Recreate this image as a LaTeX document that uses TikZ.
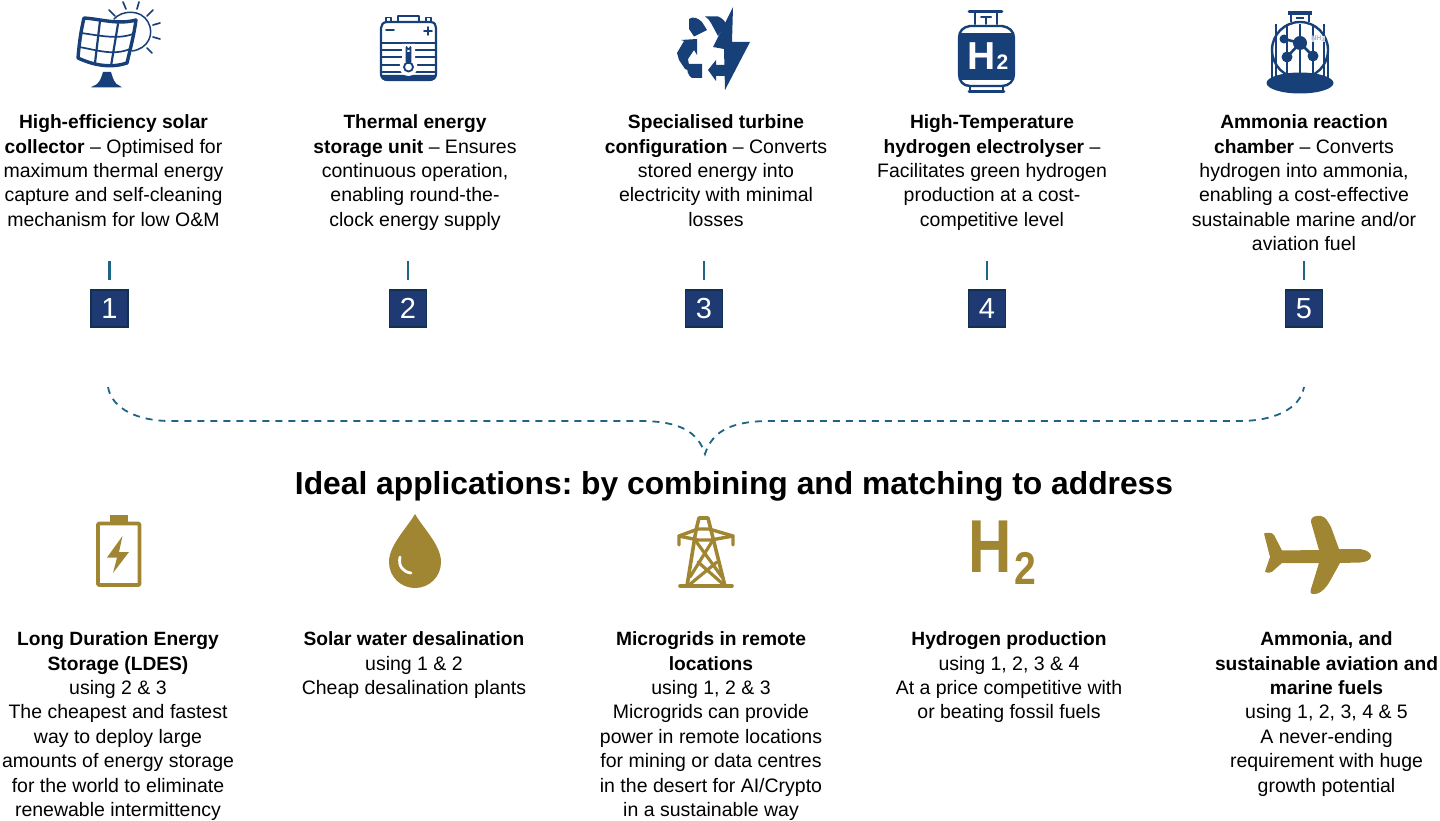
\documentclass[tikz,border=0pt]{standalone}
\usepackage{fontspec}
\setmainfont{Liberation Sans}
\frenchspacing
\definecolor{navy}{HTML}{173F78}
\definecolor{boxblue}{HTML}{1F3A72}
\definecolor{boxedge}{HTML}{12304F}
\definecolor{teal}{HTML}{1D6485}
\definecolor{gold}{HTML}{A08532}
\newcommand{\bh}[1]{{\fontsize{19.2}{24.4}\bfseries\selectfont #1}}
\tikzset{
 desc/.style={anchor=north,align=center,inner sep=0pt,font=\fontsize{19.5}{24.4}\selectfont},
 numbox/.style={draw=boxedge,line width=1.8pt,fill=boxblue,text=white,minimum size=37pt,inner sep=0pt,font=\fontsize{29}{30}\selectfont},
 tick/.style={draw=teal,line width=2.8pt},
 brace/.style={draw=teal,line width=1.8pt,dash pattern=on 7pt off 6pt},
 nv/.style={draw=navy,line width=2.2pt,line cap=round,line join=round},
 gl/.style={draw=gold,line width=2.6pt,line cap=round,line join=round},
}
\begin{document}
\begin{tikzpicture}[x=1pt,y=-1pt]
\useasboundingbox (0,0) rectangle (1440,821);
% --- solar icon
\draw[nv,line width=1.5pt] (114,19) .. controls (122,10) and (141,9) .. (148,22) .. controls (155,34) and (148,49) .. (132,51);
\foreach \a/\b/\c/\d in {109/10/115/16, 123/2/126/9, 139/2/137/9, 153/10/147/16, 160/23/153/25, 160/39/153/37, 152/53/147/48}{
 \draw[nv,line width=1.7pt] (\a,\b) -- (\c,\d);}
\filldraw[draw=navy,line width=3.4pt,fill=white,line join=round] (84,18) .. controls (100,19) and (118,25) .. (136,20) .. controls (134,35) and (130,50) .. (127,63) .. controls (112,68) and (95,66) .. (78,58) .. controls (79,45) and (81,30) .. (84,18) -- cycle;
\draw[nv,line width=1.7pt] (81,33) .. controls (97,35) and (117,40) .. (133,34);
\draw[nv,line width=1.7pt] (79,47) .. controls (97,50) and (113,56) .. (130,49);
\draw[nv,line width=2.2pt] (100,21) -- (95,63);
\draw[nv,line width=2.2pt] (118,24) -- (111,66);
\fill[navy] (91,87.5) -- (122,87.5) -- (120,86) .. controls (114,84) and (113,78) .. (111,72) -- (103,72) .. controls (101,78) and (100,84) .. (93,86) -- cycle;
% --- thermal storage icon
\draw[nv,line width=2.2pt] (387,22) -- (430,22) .. controls (435,22) and (436,25) .. (436,28) -- (436,74) .. controls (436,78) and (433,80) .. (429,80) -- (388,80) .. controls (384,80) and (381,78) .. (381,74) -- (381,28) .. controls (381,25) and (383,22) .. (387,22) -- cycle;
\draw[nv,line width=1.9pt] (398,21) -- (398,16) -- (419,16) -- (419,21);
\draw[nv,line width=1.9pt] (386,21) -- (386,17.5) -- (391,17.5) -- (391,21);
\draw[nv,line width=1.9pt] (426,21) -- (426,17.5) -- (431,17.5) -- (431,21);
\draw[nv,line width=1.6pt] (386,30) -- (394,30);
\draw[nv,line width=1.6pt] (424,31) -- (432,31) (428,27) -- (428,35);
\foreach \y in {43,50,57,65,72}{\draw[nv,line width=2.4pt] (381,\y) -- (436,\y);}
\fill[navy] (381,75) -- (436,75) -- (436,76) .. controls (436,79) and (433,81) .. (429,81) -- (388,81) .. controls (384,81) and (381,79) .. (381,76) -- cycle;
\fill[white] (402,44) rectangle (415,62) (408.5,67) circle[radius=9];
\draw[nv,line width=1.8pt] (406.5,62) -- (406.5,47) arc[start angle=180,end angle=0,radius=2] -- (410.5,62);
\draw[nv,line width=1.8pt] (408.5,67) circle[radius=4.5];
\fill[navy] (406.5,52) rectangle (410.5,64);
% --- recycle + bolt icon
\fill[navy] (689,19) .. controls (693,16) and (698,18) .. (702,22) -- (707,30) -- (694,36.5) -- (689,29) -- (689,25) -- cycle;
\fill[navy] (705,16.5) -- (718,16.5) .. controls (722,18) and (725,21) .. (726,24) -- (718,36) -- (711,23) .. controls (710,20) and (707,18) .. (705,16.5) -- cycle;
\fill[navy] (677,53) -- (684,41) -- (681,40) -- (697,39) -- (697,55) -- (694,50) -- (688,59) -- (690,71) -- (685,69) -- (679,60) -- cycle;
\fill[navy] (688,64) -- (702,64) -- (702,78) -- (692,78) .. controls (688,76) and (686,70) .. (688,64) -- cycle;
\fill[navy] (708,70) -- (716,60) -- (716,65) -- (726,65) -- (726,76) -- (716,76) -- (716,81) -- cycle;
\fill[navy] (733,7) -- (713,47) -- (724,49) -- (725,90) -- (750,42) -- (732,42) -- cycle;
% --- hydrogen tank icon
\draw[nv,line width=2.6pt] (969,11.5) -- (1002,11.5);
\draw[nv,line width=2.2pt] (975,12) -- (975,24) (997,12) -- (997,24);
\draw[nv,line width=2pt] (981,17.5) -- (991,17.5) (986,18) -- (986,24);
\fill[white,draw=navy,line width=2.4pt] (970,26) -- (1002,26) .. controls (1009,27) and (1014,31) .. (1014,38) -- (1014,74) .. controls (1014,81) and (1009,86) .. (1002,86) -- (970,86) .. controls (963,86) and (959,81) .. (959,74) -- (959,38) .. controls (959,31) and (963,27) .. (970,26) -- cycle;
\fill[navy] (959,33.5) -- (1014,33.5) -- (1014,80) -- (959,80) -- cycle;
\node[inner sep=0pt,text=white,font=\fontsize{39}{39}\bfseries\selectfont] (htank) at (981.5,56) {H};
\node[inner sep=0pt,text=white,font=\fontsize{21}{21}\bfseries\selectfont] (htwo) at (1002.5,62.5) {2};
\draw[nv,line width=2.2pt] (970,87) -- (970,91) (1003,87) -- (1003,91);
\draw[nv,line width=2.6pt] (969,91.5) -- (1004,91.5);
% --- ammonia reactor icon
\fill[navy] (1288,11.5) rectangle (1312,15);
\draw[nv,line width=1.9pt,line cap=butt] (1291,14) -- (1291,22) (1309,14) -- (1309,22) (1296,18) -- (1304,18);
\draw[nv,line width=2.4pt] (1300,50) circle[radius=28];
\foreach \x in {1276,1287,1300,1313,1324}{\draw[nv,line width=1.9pt,line cap=butt] (\x,24) -- (\x,76);}
\draw[nv,line width=1.9pt,line cap=butt] (1272,55) -- (1272,78) (1328,55) -- (1328,78);
\fill[navy] (1300,83) ellipse[x radius=33.5,y radius=10.5];
\draw[nv,line width=2.6pt] (1284,39) -- (1300,43) (1287,57) -- (1300,43) -- (1313,56);
\fill[navy] (1284,39) circle[radius=4.5] (1300,43) circle[radius=7] (1287,57) circle[radius=5.5] (1313,56) circle[radius=5.5];
\node[inner sep=0.5pt,fill=white,fill opacity=.8,text opacity=1,font=\fontsize{7}{7}\bfseries\selectfont] (nh) at (1318,39) {\textcolor{navy!40}{NH\textsubscript{3}}};
% --- top numbered row
\foreach \n/\x/\t in {1/109.5/a,2/408/b,3/704/c,4/987/d,5/1304/e}{
 \node[numbox] (box\t) at (\x,308.5) {\n};
 \coordinate (tt\t) at (\x,261);
 \coordinate (tb\t) at (\x,280);
 \draw[tick] (tt\t) -- (tb\t);
}
\node[desc] (d1) at (113.5,114.5) {\bh{High-efficiency solar}\\\bh{collector} – Optimised for\\maximum thermal energy\\capture and self-cleaning\\mechanism for low O\&M};
\node[desc] (d2) at (415,114.5) {\bh{Thermal energy}\\\bh{storage unit} – Ensures\\continuous operation,\\enabling round-the-\\clock energy supply};
\node[desc] (d3) at (716,114.5) {\bh{Specialised turbine}\\\bh{configuration} – Converts\\stored energy into\\electricity with minimal\\losses};
\node[desc] (d4) at (992,114.5) {\bh{High-Temperature}\\\bh{hydrogen electrolyser} –\\Facilitates green hydrogen\\production at a cost-\\competitive level};
\node[desc] (d5) at (1304,114.5) {\bh{Ammonia reaction}\\\bh{chamber} – Converts\\hydrogen into ammonia,\\enabling a cost-effective\\sustainable marine and/or\\aviation fuel};
% --- brace
\coordinate (bl) at (108,387);
\coordinate (bm) at (705,454);
\coordinate (br) at (1304,387);
\draw[brace] (bl) .. controls (112,410) and (140,421) .. (170,421) -- (640,421) .. controls (680,421) and (698,432) .. (bm) .. controls (712,432) and (730,421) .. (770,421) -- (1240,421) .. controls (1272,421) and (1300,410) .. (br);
\node[inner sep=0pt,font=\fontsize{31.8}{36}\bfseries\selectfont] (title) at (734,486) {Ideal applications: by combining and matching to address};
% --- gold battery
\fill[gold] (110,515) rectangle (128,523);
\draw[gl,line width=3.8pt,rounded corners=1pt] (98,523.5) rectangle (139.5,585);
\fill[gold] (122.5,536) -- (107,557.5) -- (117,557.5) -- (113,573) -- (129,552) -- (119,552) -- cycle;
% --- gold drop
\fill[gold] (415,514) .. controls (407,528) and (389,545) .. (389,562) .. controls (389,577) and (401,588) .. (415,588) .. controls (429,588) and (441,577) .. (441,562) .. controls (441,545) and (423,528) .. (415,514) -- cycle;
\draw[white,line width=2.8pt,line cap=round] (400,557) .. controls (398,566) and (403,572) .. (411,573);
% --- gold tower
\draw[gl,line width=3.6pt] (680,586) -- (732,586);
\draw[gl,line width=3.6pt] (687,586) -- (696,530) -- (699,518) -- (708,518) -- (711,530) -- (725,586);
\draw[gl,line width=3.4pt] (679,545) -- (679,536) -- (698,529) -- (709,529) -- (733,536) -- (733,545);
\draw[gl,line width=3.4pt] (679,536) -- (698,540) -- (711,540) -- (733,536);
\draw[gl,line width=3.2pt] (695,540) -- (722,577) (713,540) -- (690,577) (689,585) -- (717,562) (724,585) -- (698,562);
% --- gold H2
\node[inner sep=0pt,text=gold,font=\fontsize{75}{75}\bfseries\selectfont,xscale=.8,anchor=center] (gh) at (990.5,547) {H};
\node[inner sep=0pt,text=gold,font=\fontsize{46}{46}\bfseries\selectfont,xscale=.85,anchor=center] (gt) at (1025,568.5) {2};
% --- gold plane
\fill[gold] (1264,533.5) .. controls (1267,532.5) and (1272,532) .. (1274,535) -- (1282,550.5) -- (1319,550) -- (1311,522) .. controls (1310,517) and (1316,515) .. (1321,516) .. controls (1326,517) and (1328,522) .. (1331,527) -- (1339,549) -- (1360,549) .. controls (1367,550) and (1371,553) .. (1371,556) .. controls (1371,560) and (1366,562) .. (1360,562.5) -- (1340,563) -- (1330,581) .. controls (1325,590) and (1318,595) .. (1313,594) .. controls (1310,594) and (1310,591) .. (1311,589) -- (1319,563) -- (1282,563) -- (1274,570) .. controls (1272,573) and (1267,573.5) .. (1265,571.5) -- (1270,557) -- cycle;
% --- bottom text
\node[desc] (a1) at (118,631.5) {\bh{Long Duration Energy}\\\bh{Storage (LDES)}\\using 2 \& 3\\The cheapest and fastest\\way to deploy large\\amounts of energy storage\\for the world to eliminate\\renewable intermittency};
\node[desc] (a2) at (414,631.5) {\bh{Solar water desalination}\\using 1 \& 2\\Cheap desalination plants};
\node[desc] (a3) at (711,631.5) {\bh{Microgrids in remote}\\\bh{locations}\\using 1, 2 \& 3\\Microgrids can provide\\power in remote locations\\for mining or data centres\\in the desert for AI/Crypto\\in a sustainable way};
\node[desc] (a4) at (1009,631.5) {\bh{Hydrogen production}\\using 1, 2, 3 \& 4\\At a price competitive with\\or beating fossil fuels};
\node[desc] (a5) at (1326.5,631.5) {\bh{Ammonia, and}\\\bh{sustainable aviation and}\\\bh{marine fuels}\\using 1, 2, 3, 4 \& 5\\A never-ending\\requirement with huge\\growth potential};
\end{tikzpicture}
\end{document}
